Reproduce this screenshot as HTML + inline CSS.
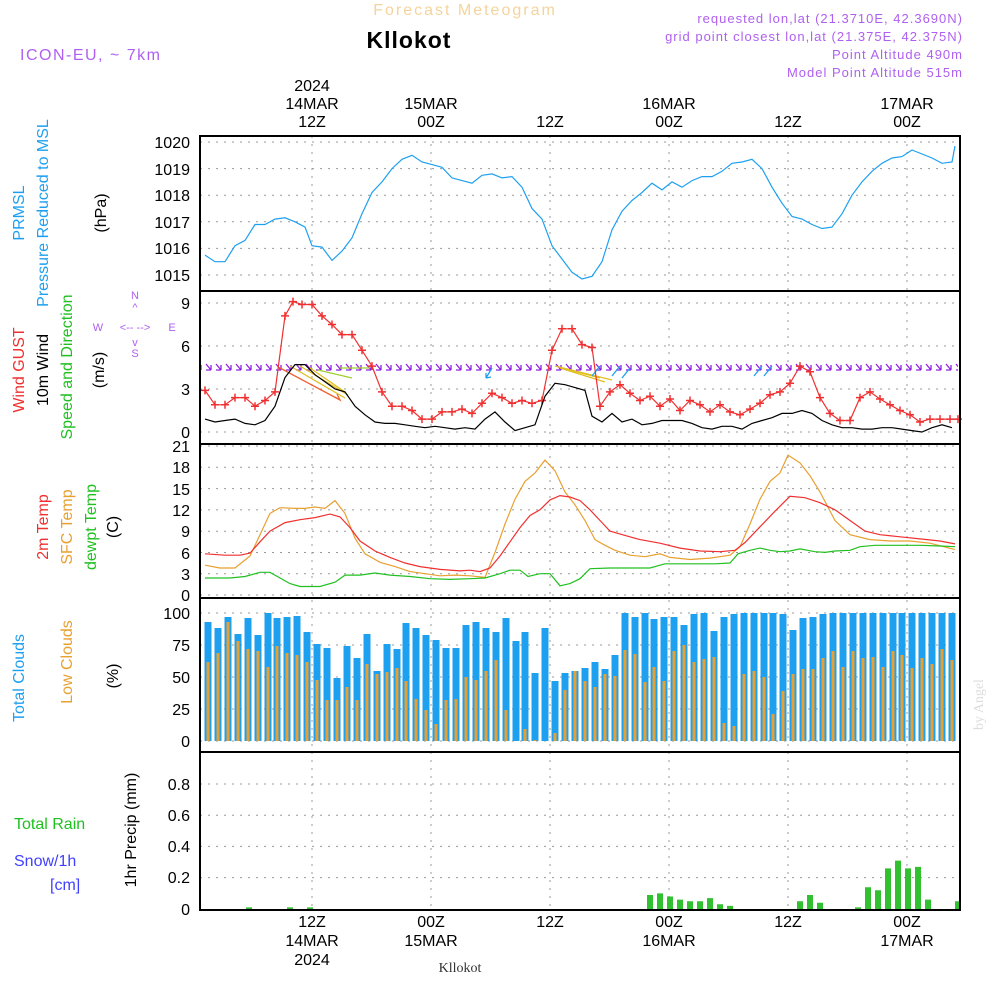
<!DOCTYPE html>
<html><head><meta charset="utf-8"><style>
body{margin:0;background:#fff;}
svg{display:block;font-family:"Liberation Sans",sans-serif;}
</style></head><body>
<svg width="1000" height="1000" xmlns="http://www.w3.org/2000/svg">
<defs>
<marker id="plus" markerWidth="10" markerHeight="10" refX="5" refY="5" markerUnits="userSpaceOnUse">
<path d="M1,5H9M5,1V9" stroke="#f03030" stroke-width="1.5" fill="none"/>
</marker>
<pattern id="arw" x="205" y="362" width="10" height="12" patternUnits="userSpaceOnUse">
<path d="M1,2L6,8M6,8L6,3M6,8L1,8" stroke="#9020e0" stroke-width="1.3" fill="none"/>
</pattern>
</defs>
<rect width="1000" height="1000" fill="#fff"/>
<text x="465" y="15" text-anchor="middle" font-size="16" fill="#f4d49c" letter-spacing="2">Forecast Meteogram</text>
<text x="409" y="48" text-anchor="middle" font-size="23" font-weight="bold" fill="#000" letter-spacing="1">Kllokot</text>
<text x="20" y="60" font-size="16" fill="#b060f0" letter-spacing="1.5">ICON-EU, ~ 7km</text>
<g font-size="13" fill="#b060f0" text-anchor="end" letter-spacing="1">
<text x="963" y="23">requested lon,lat (21.3710E, 42.3690N)</text>
<text x="963" y="41">grid point closest lon,lat (21.375E, 42.375N)</text>
<text x="963" y="59">Point Altitude 490m</text>
<text x="963" y="77">Model Point Altitude 515m</text>
</g>
<g font-size="16" fill="#000" text-anchor="middle">
<text x="312" y="91">2024</text><text x="312" y="109">14MAR</text><text x="312" y="127">12Z</text>
<text x="431" y="109">15MAR</text><text x="431" y="127">00Z</text>
<text x="550" y="127">12Z</text>
<text x="669" y="109">16MAR</text><text x="669" y="127">00Z</text>
<text x="788" y="127">12Z</text>
<text x="907" y="109">17MAR</text><text x="907" y="127">00Z</text>
<text x="312" y="927">12Z</text><text x="312" y="946">14MAR</text><text x="312" y="965">2024</text>
<text x="431" y="927">00Z</text><text x="431" y="946">15MAR</text>
<text x="550" y="927">12Z</text>
<text x="669" y="927">00Z</text><text x="669" y="946">16MAR</text>
<text x="788" y="927">12Z</text>
<text x="907" y="927">00Z</text><text x="907" y="946">17MAR</text>
</g>
<text x="460" y="972" text-anchor="middle" font-size="14" font-family="Liberation Serif,serif" fill="#333">Kllokot</text>
<text transform="translate(983,730) rotate(-90)" font-size="14" font-family="Liberation Serif,serif" fill="#ddd">by Angel</text>

<g stroke="#999" stroke-dasharray="2,6" stroke-width="1">
<path d="M312,136V910M431,136V910M550,136V910M669,136V910M788,136V910M907,136V910"/>
<path d="M200,142H960M200,168.6H960M200,195.2H960M200,221.8H960M200,248.4H960M200,275H960"/>
<path d="M200,303H960M200,346H960M200,389H960M200,432H960"/>
<path d="M200,446H960M200,467.3H960M200,488.6H960M200,509.9H960M200,531.2H960M200,552.5H960M200,573.8H960M200,595H960"/>
<path d="M200,613H960M200,645H960M200,677H960M200,709H960M200,741H960"/>
<path d="M200,784H960M200,815.2H960M200,846.4H960M200,877.6H960"/>
</g>

<!-- pressure -->
<polyline fill="none" stroke="#1ea0f0" stroke-width="1.2" points="205,255.1 215,261.7 225,261.7 235,245.7 245,240.4 255,224.5 265,224.5 275,219.1 285,217.8 295,221.8 305,227.1 312,245.7 322,247.1 332,260.4 342,251.1 352,237.8 362,213.8 372,192.5 382,181.9 392,168.6 402,159.3 412,155.3 422,162 432,164.6 442,167.3 452,177.9 462,180.6 472,183.2 482,175.3 492,173.9 502,177.9 512,176.6 522,187.2 532,208.5 542,219.1 552,245.7 562,259 572,272.3 582,279 592,276.3 602,261.7 612,229.8 622,211.2 632,200.5 642,192.5 652,183.2 662,189.9 672,181.9 682,187.2 692,180.6 702,176.6 712,176.6 722,171.3 732,163.3 742,162 752,159.3 762,168.6 772,187.2 782,203.2 792,216.5 802,219.1 812,224.5 822,228.5 832,227.1 842,213.8 852,195.2 862,181.9 872,171.3 882,163.3 892,158 902,156.6 912,150 922,154 932,158 942,163.3 952,162 955,146"/>

<!-- wind arrows -->
<rect x="200" y="362" width="758" height="12" fill="url(#arw)"/>
<g stroke-width="1.3" fill="none">
<path d="M280,368L340,400M335,397L340,400L337,394" stroke="#f06030"/>
<path d="M290,366L345,398M300,366L348,395M310,368L345,392" stroke="#e0c020"/>
<path d="M318,370L352,378M340,368L370,368" stroke="#a0d030"/>
<path d="M555,366L612,380M560,368L605,382M570,370L600,378" stroke="#e0c020"/>
<path d="M492,368L486,378M486,378L486,373M486,378L491,377" stroke="#1ea0f0"/>
<path d="M600,366L592,376M620,366L612,376M630,368L622,378M762,366L754,376M772,366L764,376" stroke="#1ea0f0"/>
</g>

<!-- gust -->
<polyline fill="none" stroke="#f03030" stroke-width="1.2" marker-start="url(#plus)" marker-mid="url(#plus)" marker-end="url(#plus)" points="205,390.4 215,404.8 225,404.8 235,397.6 245,397.6 255,406.2 265,400.5 275,391.9 285,315.9 293,301.6 302,304.5 312,304.5 322,315.9 332,324.5 342,334.6 352,334.6 362,350.3 372,366.1 382,391.9 392,406.2 402,406.2 412,410.5 422,419.1 432,419.1 442,411.9 452,411.9 462,409.1 472,413.4 482,403.3 492,393.3 502,397.6 512,403.3 522,400.5 532,403.3 542,400.5 552,350.3 562,328.8 572,328.8 582,344.6 592,347.5 600,406.2 610,391.9 620,384.7 630,393.3 640,400.5 650,396.2 660,406.2 670,399 680,410.5 690,400.5 700,404.8 710,411.9 720,404.8 730,411.9 740,414.8 750,409.1 760,403.3 770,394.7 780,391.9 790,383.3 800,366.1 810,371.8 820,397.6 830,413.4 840,420.5 850,420.5 860,397.6 870,391.9 880,399 890,404.8 900,410.5 910,414.8 920,422 930,419.1 940,419.1 950,419.1 958,419.1"/>
<!-- wind -->
<polyline fill="none" stroke="#000" stroke-width="1.2" points="205,419.1 215,422 225,420.5 235,419.1 245,423.4 255,424.8 265,420.5 275,406.2 285,377.5 295,364.6 305,364.6 315,374.7 325,381.8 335,389 345,391.9 355,406.2 365,414.8 375,422 385,423.4 395,423.4 405,424.8 415,426.3 425,427.7 435,426.3 445,427.7 455,429.1 465,427.7 475,429.1 485,419.1 495,411.9 505,422 515,430.6 525,427.7 535,424.8 545,396.2 555,383.3 565,384.7 575,387.6 585,390.4 592,416.2 602,422 612,413.4 622,422 632,419.1 642,424.8 652,423.4 662,420.5 672,420.5 682,420.5 692,423.4 702,427.7 712,429.1 722,426.3 732,426.3 742,429.1 752,423.4 762,420.5 772,417.7 782,413.4 792,413.4 802,410.5 812,413.4 822,420.5 832,424.8 842,427.7 852,427.7 862,429.1 872,429.1 882,427.7 892,427.7 902,429.1 912,430.6 922,432 932,427.7 942,424.8 952,427.7"/>

<!-- temps -->
<polyline fill="none" stroke="#e8a030" stroke-width="1.2" points="205,565.2 220,568 235,568 250,556 260,534.7 270,513.4 280,507.7 295,508.4 305,508.4 315,507 325,508.4 335,500.6 345,513.4 355,538.2 365,553.8 380,562.3 395,566.6 410,571.6 425,573.7 440,575.8 455,575.1 470,575.8 485,577.3 495,552.4 505,524 515,499.2 525,481.4 535,472.9 545,460.1 555,470.8 565,492 575,504.8 585,520.5 595,539.6 605,545.3 615,550.3 630,555.2 645,556.7 660,553.8 670,557.4 690,559.5 710,558.1 730,555.2 740,546.7 750,524 760,499.2 770,481.4 780,472.9 788,455.1 800,462.9 810,475.7 820,492 835,520.5 850,534.7 870,539.6 890,541 910,541 930,543.2 955,549.6"/>
<polyline fill="none" stroke="#f03030" stroke-width="1.2" points="205,553.8 225,555.2 240,555.2 250,553.1 260,541.8 270,531.1 285,522.6 300,519.7 315,517.6 330,514.1 340,516.9 350,527.6 360,541 375,551 390,557.4 405,563 420,566.6 440,569.4 460,570.9 470,570.2 480,571.6 490,568 500,556 510,541.8 520,527.6 530,515.5 540,509.8 550,499.9 560,495.6 570,497 580,500.6 590,509.8 600,520.5 610,531.1 625,535.4 640,539.6 660,543.2 680,548.1 700,551 720,551.7 735,550.3 745,542.5 760,526.8 775,511.2 790,496.3 805,497.7 820,502.7 835,509.8 850,520.5 865,531.1 880,534.7 900,536.8 920,538.9 940,541 955,543.9"/>
<polyline fill="none" stroke="#20c020" stroke-width="1.2" points="205,578 230,578 245,576.5 260,572.3 270,572.3 280,578 290,583.6 300,586.5 320,586.5 335,582.2 345,575.1 360,575.1 375,573 390,575.1 410,576.5 430,578.7 450,579.4 470,578.7 485,578 500,573.7 510,570.2 520,570.2 528,576.5 540,573.7 550,573.7 560,585.8 570,583.6 580,578.7 590,568.7 610,568 630,568 650,568 665,563.8 690,563.8 715,563.8 730,563 738,553.8 750,550.3 760,548.1 770,550.3 780,551.7 790,551 800,548.9 815,551.7 825,552.4 835,551 850,550.3 860,546.7 875,545.3 900,545.3 920,545.3 940,546 955,546.7"/>

<!-- total clouds -->
<path fill="none" stroke="#1ea0f0" stroke-width="7" d="M208,741V622M218,741V628M228,741V617M238,741V634M248,741V618M258,741V635M268,741V613M277,741V618M287,741V617M297,741V616M307,741V632M317,741V644M327,741V648M337,741V678M347,741V646M357,741V658M367,741V634M377,741V671M387,741V644M397,741V649M406,741V623M416,741V628M426,741V635M436,741V640M446,741V648M456,741V648M466,741V625M476,741V622M486,741V628M496,741V632M506,741V618M516,741V641M525,741V632M535,741V673M545,741V628M555,741V681M565,741V673M575,741V671M585,741V668M595,741V662M605,741V669M615,741V655M625,741V613M635,741V617M645,741V613M654,741V619M664,741V617M674,741V617M684,741V625M694,741V614M704,741V613M714,741V631M724,741V617M734,741V614M744,741V613M754,741V613M764,741V613M773,741V613M783,741V614M793,741V630M803,741V618M813,741V617M823,741V614M833,741V613M843,741V613M853,741V613M863,741V613M873,741V613M883,741V613M893,741V613M902,741V613M912,741V613M922,741V613M932,741V613M942,741V613M952,741V613"/>
<!-- low clouds -->
<path fill="none" stroke="#e8a030" stroke-width="3" d="M208,741V662M218,741V653M228,741V622M238,741V641M248,741V649M258,741V651M268,741V667M277,741V646M287,741V653M297,741V655M307,741V662M317,741V680M327,741V700M337,741V700M347,741V687M357,741V700M367,741V664M377,741V674M387,741V672M397,741V668M406,741V681M416,741V699M426,741V710M436,741V724M446,741V700M456,741V699M466,741V677M476,741V680M486,741V671M496,741V660M506,741V710M525,741V729M535,741V740M555,741V733M565,741V690M575,741V671M585,741V681M595,741V687M605,741V674M615,741V676M625,741V650M635,741V654M645,741V682M654,741V667M664,741V681M674,741V651M684,741V645M694,741V662M704,741V659M714,741V657M724,741V723M734,741V726M744,741V674M754,741V671M764,741V677M773,741V714M783,741V691M793,741V674M803,741V669M813,741V669M823,741V658M833,741V651M843,741V667M853,741V651M863,741V658M873,741V657M883,741V667M893,741V651M902,741V655M912,741V668M922,741V658M932,741V664M942,741V649M952,741V660"/>

<!-- precip -->
<path fill="none" stroke="#30c030" stroke-width="6" d="M249,909V907.4M290,909V907.4M310,909V907.4M650,909V895M660,909V893.4M670,909V896.5M680,909V899.6M690,909V901.2M700,909V901.2M710,909V898.1M720,909V904.3M730,909V905.9M800,909V901.2M810,909V895M820,909V902.8M858,909V907.4M868,909V887.2M878,909V890.3M888,909V868.4M898,909V860.6M908,909V868.4M918,909V866.9M928,909V899.6M958,909V901.2"/>

<g fill="none" stroke="#000" stroke-width="2">
<rect x="200" y="136" width="760" height="774"/>
<line x1="200" y1="291" x2="960" y2="291"/>
<line x1="200" y1="444" x2="960" y2="444"/>
<line x1="200" y1="598" x2="960" y2="598"/>
<line x1="200" y1="752" x2="960" y2="752"/>
</g>
<g font-size="16" fill="#000" text-anchor="end">
<text x="190" y="148">1020</text><text x="190" y="175">1019</text><text x="190" y="201">1018</text><text x="190" y="228">1017</text><text x="190" y="254">1016</text><text x="190" y="281">1015</text>
<text x="190" y="309">9</text><text x="190" y="352">6</text><text x="190" y="395">3</text><text x="190" y="438">0</text>
<text x="190" y="452">21</text><text x="190" y="473">18</text><text x="190" y="495">15</text><text x="190" y="516">12</text><text x="190" y="537">9</text><text x="190" y="559">6</text><text x="190" y="580">3</text><text x="190" y="601">0</text>
<text x="190" y="619">100</text><text x="190" y="651">75</text><text x="190" y="683">50</text><text x="190" y="715">25</text><text x="190" y="747">0</text>
<text x="190" y="790">0.8</text><text x="190" y="821">0.6</text><text x="190" y="852">0.4</text><text x="190" y="883">0.2</text><text x="190" y="915">0</text>
</g>
<g font-size="16">
<text transform="translate(24,213) rotate(-90)" text-anchor="middle" fill="#1ea0f0">PRMSL</text>
<text transform="translate(48,213) rotate(-90)" text-anchor="middle" fill="#1ea0f0">Pressure Reduced to MSL</text>
<text transform="translate(106,213) rotate(-90)" text-anchor="middle" fill="#000">(hPa)</text>
<text transform="translate(24,370) rotate(-90)" text-anchor="middle" fill="#f03030">Wind GUST</text>
<text transform="translate(48,370) rotate(-90)" text-anchor="middle" fill="#000">10m Wind</text>
<text transform="translate(72,367) rotate(-90)" text-anchor="middle" fill="#20c020">Speed and Direction</text>
<text transform="translate(104,370) rotate(-90)" text-anchor="middle" fill="#000">(m/s)</text>
<text transform="translate(48,527) rotate(-90)" text-anchor="middle" fill="#f03030">2m Temp</text>
<text transform="translate(72,527) rotate(-90)" text-anchor="middle" fill="#e8a030">SFC Temp</text>
<text transform="translate(96,527) rotate(-90)" text-anchor="middle" fill="#20c020">dewpt Temp</text>
<text transform="translate(118,527) rotate(-90)" text-anchor="middle" fill="#000">(C)</text>
<text transform="translate(24,678) rotate(-90)" text-anchor="middle" fill="#1ea0f0">Total Clouds</text>
<text transform="translate(72,662) rotate(-90)" text-anchor="middle" fill="#e8a030">Low Clouds</text>
<text transform="translate(118,676) rotate(-90)" text-anchor="middle" fill="#000">(%)</text>
<text transform="translate(136,830) rotate(-90)" text-anchor="middle" fill="#000">1hr Precip (mm)</text>
<text x="14" y="829" fill="#20c020">Total  Rain</text>
<text x="14" y="866" fill="#4040ff">Snow/1h</text>
<text x="50" y="890" fill="#4040ff">[cm]</text>
</g>
<g font-size="11" fill="#b060f0" text-anchor="middle">
<text x="135" y="299">N</text><text x="135" y="311">^</text><text x="98" y="331">W</text><text x="135" y="331">&lt;-- --&gt;</text><text x="172" y="331">E</text>
<text x="135" y="346">v</text><text x="135" y="357">S</text>
</g>
</svg>
</body></html>
